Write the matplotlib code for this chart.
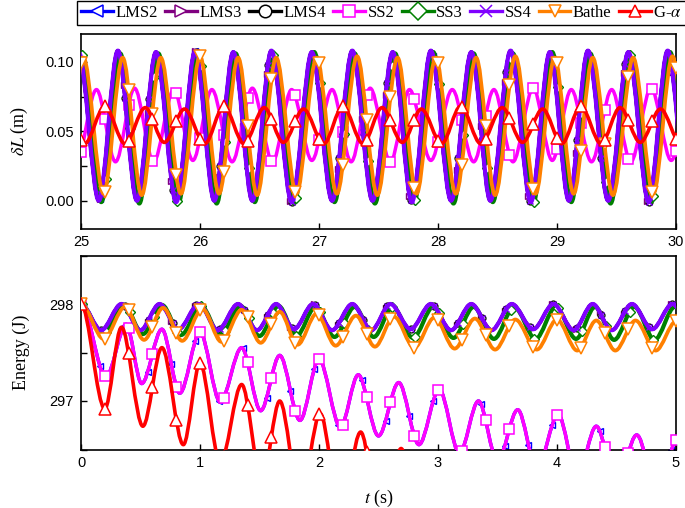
import numpy as np
import matplotlib.pyplot as plt
from matplotlib.path import Path
from matplotlib.patches import PathPatch
from matplotlib.bezier import BezierSegment
from matplotlib.lines import Line2D
from matplotlib.ticker import MultipleLocator

plt.rcParams['font.family'] = ['Liberation Serif', 'DejaVu Serif']
plt.rcParams['mathtext.fontset'] = 'stix'

labels = ['LMS2', 'LMS3', 'LMS4', 'SS2', 'SS3', 'SS4', 'Bathe', r'G-$\alpha$']

# ---- top panel (t = 25..30 s): turning points of dL (m)
ss4_top_t = [24.98, 25.15, 25.31, 25.47, 25.63, 25.80, 25.96, 26.12, 26.28, 26.44, 26.60,
             26.77, 26.94, 27.11, 27.28, 27.45, 27.62, 27.78, 27.94, 28.11, 28.28, 28.44,
             28.61, 28.78, 28.94, 29.10, 29.26, 29.43, 29.60, 29.77, 29.93, 30.10]
ss4_top_v = [0.107, 0.000, 0.108, 0.000, 0.107, -0.001, 0.108, 0.000, 0.107, 0.000, 0.108,
             -0.001, 0.107, 0.000, 0.108, 0.000, 0.107, -0.001, 0.108, 0.000, 0.107, 0.000,
             0.108, -0.001, 0.107, 0.000, 0.108, 0.000, 0.107, -0.001, 0.108, 0.000]

ss3_top_t = [25.00, 25.17, 25.33, 25.49, 25.65, 25.82, 25.98, 26.14, 26.30, 26.46, 26.62,
             26.79, 26.96, 27.13, 27.30, 27.47, 27.64, 27.80, 27.96, 28.13, 28.30, 28.46,
             28.63, 28.80, 28.96, 29.12, 29.28, 29.45, 29.62, 29.79, 29.95, 30.12]
ss3_top_v = [0.106, -0.001, 0.106, -0.002, 0.106, -0.001, 0.107, -0.002, 0.106, -0.001, 0.106,
             -0.002, 0.107, -0.001, 0.106, -0.002, 0.106, -0.001, 0.107, -0.002, 0.106, -0.001,
             0.106, -0.002, 0.107, -0.001, 0.106, -0.002, 0.106, -0.001, 0.107, -0.002]

bathe_top_t = [24.86, 25.02, 25.19, 25.35, 25.51, 25.67, 25.84, 26.00, 26.16, 26.32, 26.48,
               26.64, 26.81, 26.98, 27.15, 27.32, 27.49, 27.66, 27.82, 27.98, 28.15, 28.32,
               28.48, 28.65, 28.82, 28.98, 29.14, 29.30, 29.47, 29.64, 29.81, 29.97, 30.14]
bathe_top_v = [0.005, 0.103, 0.005, 0.103, 0.004, 0.103, 0.005, 0.104, 0.005, 0.103, 0.004,
               0.103, 0.005, 0.103, 0.005, 0.104, 0.004, 0.103, 0.005, 0.103, 0.005, 0.103,
               0.004, 0.104, 0.005, 0.103, 0.005, 0.103, 0.004, 0.103, 0.005, 0.104, 0.005]

ss2_top_t = [24.96, 25.13, 25.29, 25.45, 25.61, 25.78, 25.94, 26.10, 26.27, 26.44, 26.61,
             26.77, 26.94, 27.11, 27.27, 27.43, 27.60, 27.76, 27.94, 28.12, 28.30, 28.47,
             28.63, 28.80, 28.96, 29.12, 29.29, 29.46, 29.62, 29.79, 29.96, 30.13]
ss2_top_v = [0.028, 0.080, 0.028, 0.081, 0.028, 0.080, 0.029, 0.080, 0.028, 0.081, 0.028,
             0.080, 0.029, 0.080, 0.028, 0.081, 0.028, 0.080, 0.029, 0.080, 0.028, 0.080,
             0.028, 0.081, 0.029, 0.080, 0.028, 0.080, 0.028, 0.081, 0.029, 0.080]

ga_top_t = [24.87, 25.03, 25.20, 25.37, 25.54, 25.70, 25.87, 26.04, 26.20, 26.37, 26.54,
            26.70, 26.87, 27.04, 27.20, 27.37, 27.53, 27.70, 27.86, 28.03, 28.19, 28.36,
            28.54, 28.71, 28.88, 29.04, 29.20, 29.37, 29.53, 29.70, 29.87, 30.04]
ga_top_v = [0.067, 0.041, 0.068, 0.041, 0.067, 0.042, 0.066, 0.041, 0.068, 0.041, 0.067,
            0.042, 0.066, 0.041, 0.068, 0.041, 0.067, 0.042, 0.066, 0.041, 0.068, 0.041,
            0.067, 0.042, 0.066, 0.041, 0.068, 0.041, 0.067, 0.042, 0.066, 0.041]

# ---- bottom panel (t = 0..5 s): turning points of energy (J)
ss4_bot_t = [0.00, 0.17, 0.34, 0.50, 0.66, 0.82, 0.99, 1.15, 1.32, 1.48, 1.64, 1.79, 1.95,
             2.11, 2.28, 2.44, 2.60, 2.77, 2.94, 3.11, 3.28, 3.45, 3.62, 3.80, 3.97, 4.14,
             4.30, 4.46, 4.63, 4.80, 4.97, 5.14]
ss4_bot_v = [298.00, 297.73, 298.00, 297.73, 298.00, 297.74, 298.00, 297.73, 298.00, 297.73,
             298.00, 297.74, 298.00, 297.73, 298.00, 297.73, 298.00, 297.74, 298.00, 297.73,
             298.00, 297.73, 298.00, 297.74, 298.00, 297.73, 298.00, 297.73, 298.00, 297.74,
             298.00, 297.73]

ss3_bot_t = [0.00, 0.18, 0.36, 0.52, 0.68, 0.84, 1.01, 1.17, 1.34, 1.50, 1.66, 1.81, 1.97,
             2.13, 2.30, 2.46, 2.62, 2.79, 2.96, 3.13, 3.30, 3.47, 3.64, 3.82, 3.99, 4.16,
             4.32, 4.48, 4.65, 4.82, 4.99, 5.16]
ss3_bot_v = [298.00, 297.69, 297.99, 297.69, 297.99, 297.68, 297.98, 297.68, 297.98, 297.67,
             297.98, 297.67, 297.97, 297.66, 297.97, 297.66, 297.97, 297.65, 297.97, 297.65,
             297.97, 297.64, 297.97, 297.64, 297.97, 297.64, 297.97, 297.63, 297.97, 297.63,
             297.97, 297.63]

bathe_bot_t = [0.00, 0.19, 0.37, 0.53, 0.69, 0.85, 1.02, 1.18, 1.35, 1.51, 1.67, 1.82, 1.98,
               2.14, 2.31, 2.47, 2.63, 2.80, 2.97, 3.14, 3.31, 3.48, 3.65, 3.83, 4.00, 4.17,
               4.33, 4.49, 4.66, 4.83, 5.00, 5.17]
bathe_bot_v = [298.00, 297.64, 297.97, 297.63, 297.96, 297.62, 297.95, 297.61, 297.94, 297.60,
               297.92, 297.58, 297.90, 297.57, 297.88, 297.56, 297.87, 297.55, 297.86, 297.54,
               297.85, 297.53, 297.84, 297.53, 297.84, 297.52, 297.83, 297.52, 297.83, 297.52,
               297.82, 297.52]

ss2_bot_t = [0.00, 0.21, 0.38, 0.51, 0.68, 0.83, 1.00, 1.17, 1.35, 1.51, 1.67, 1.84, 2.00,
             2.18, 2.33, 2.50, 2.67, 2.84, 3.01, 3.18, 3.34, 3.50, 3.67, 3.83, 4.01, 4.17,
             4.33, 4.50, 4.67, 4.84, 5.01, 5.17]
ss2_bot_v = [298.00, 297.25, 297.79, 297.18, 297.74, 297.08, 297.71, 296.99, 297.55, 296.90,
             297.47, 296.80, 297.43, 296.73, 297.27, 296.64, 297.19, 296.55, 297.12, 296.46,
             297.00, 296.38, 296.91, 296.30, 296.86, 296.22, 296.74, 296.15, 296.65, 296.08,
             296.60, 296.00]

ga_bot_t = [0.00, 0.20, 0.34, 0.52, 0.68, 0.86, 1.00, 1.17, 1.35, 1.52, 1.67, 1.84, 2.01,
            2.18, 2.35, 2.52, 2.69, 2.86]
ga_bot_v = [298.00, 296.92, 297.76, 296.74, 297.55, 296.55, 297.39, 296.36, 297.17, 296.18,
            297.00, 296.00, 296.87, 295.85, 296.68, 295.70, 296.51, 295.50]

# LMS curves sit under the thick SS curves, so they share their turning points
top_data = [(ss4_top_t, ss4_top_v), (ss4_top_t, ss4_top_v), (ss4_top_t, ss4_top_v),
            (ss2_top_t, ss2_top_v), (ss3_top_t, ss3_top_v), (ss4_top_t, ss4_top_v),
            (bathe_top_t, bathe_top_v), (ga_top_t, ga_top_v)]
bot_data = [(ss2_bot_t, ss2_bot_v), (ss4_bot_t, ss4_bot_v), (ss4_bot_t, ss4_bot_v),
            (ss2_bot_t, ss2_bot_v), (ss3_bot_t, ss3_bot_v), (ss4_bot_t, ss4_bot_v),
            (bathe_bot_t, bathe_bot_v), (ga_bot_t, ga_bot_v)]

styles = [
    dict(color='#0000ff', marker='<', ms=4.5, mew=1.0, lw=2.4, moff=-0.04),
    dict(color='#800080', marker='>', ms=4.5, mew=1.0, lw=2.4, moff=-0.04),
    dict(color='#000000', marker='o', ms=5.0, mew=0.9, lw=2.4, moff=-0.03),
    dict(color='#ff00ff', marker='s', ms=7.5, mew=1.1, lw=2.5, moff=0.0),
    dict(color='#008000', marker='D', ms=5.5, mew=1.0, lw=3.0, moff=0.01),
    dict(color='#8000ff', marker='x', ms=5.0, mew=1.0, lw=3.0, moff=-0.03),
    dict(color='#ff8000', marker='v', ms=9.0, mew=1.1, lw=2.7, moff=0.0),
    dict(color='#ff0000', marker='^', ms=9.0, mew=1.1, lw=2.6, moff=0.0),
]


def curve_segments(t, v):
    segs = []
    for i in range(len(t) - 1):
        h = (t[i + 1] - t[i]) / 3
        segs.append(np.array([[t[i], v[i]], [t[i] + h, v[i]],
                              [t[i + 1] - h, v[i + 1]], [t[i + 1], v[i + 1]]]))
    return segs


def draw_series(ax, t, v, st, z, t0, t1):
    segs = curve_segments(t, v)
    verts = [segs[0][0]]
    codes = [Path.MOVETO]
    for s in segs:
        verts.extend(s[1:])
        codes.extend([Path.CURVE4] * 3)
    ax.add_patch(PathPatch(Path(verts, codes), fill=False, ec=st['color'], lw=st['lw'],
                           zorder=z, capstyle='round', joinstyle='round'))
    pts = []
    for tm in np.arange(t0 + st['moff'], t1 + 0.01, 0.2):
        i = np.searchsorted(t, tm, side='right') - 1
        if 0 <= i < len(segs):
            s = segs[i]
            pts.append(BezierSegment(s).point_at_t((tm - s[0, 0]) / (s[3, 0] - s[0, 0])))
    pts = np.array(pts)
    ax.plot(pts[:, 0], pts[:, 1], ls='none', marker=st['marker'], ms=st['ms'],
            mfc='white', mec=st['color'], mew=st['mew'], zorder=z + 0.5)


fig = plt.figure(figsize=(6.85, 5.08), dpi=100)
ax1 = fig.add_axes([81 / 685, 1 - 228.5 / 508, 595 / 685, 194.5 / 508])
ax2 = fig.add_axes([81 / 685, 1 - 449.5 / 508, 595 / 685, 194 / 508])

for k, st in enumerate(styles):
    draw_series(ax1, *top_data[k], st, 2 + k, 25, 30)
    draw_series(ax2, *bot_data[k], st, 2 + k, 0, 5)

ax1.set_xlim(25, 30)
ax1.set_ylim(-0.02, 0.12)
ax1.yaxis.set_major_locator(MultipleLocator(0.05))
ax1.yaxis.set_minor_locator(MultipleLocator(0.025))
ax1.yaxis.set_major_formatter('{x:.2f}')
ax2.set_xlim(0, 5)
ax2.set_ylim(296.5, 298.5)
ax2.yaxis.set_major_locator(MultipleLocator(1))
ax2.yaxis.set_minor_locator(MultipleLocator(0.5))
ax2.yaxis.set_major_formatter('{x:.0f}')

for ax in (ax1, ax2):
    ax.xaxis.set_major_locator(MultipleLocator(1))
    ax.tick_params(which='both', direction='in', length=4, width=1.0, labelsize=10.5,
                   pad=5, labelfontfamily='Liberation Sans')
    for sp in ax.spines.values():
        sp.set_linewidth(1.2)
    ax.yaxis.set_label_coords(-0.085, 0.5)

ax1.set_ylabel(r'$\delta L$ (m)', fontsize=13)
ax2.set_ylabel('Energy (J)', fontsize=13)
ax2.set_xlabel(r'$t$ (s)', fontsize=13)
ax2.xaxis.set_label_coords(0.5, -0.2)

handles = [Line2D([], [], color=st['color'], lw=2.4, marker=st['marker'], ms=9,
                  mfc='white', mec=st['color'], mew=1.1) for st in styles]
leg = fig.legend(handles, labels, loc='upper center', bbox_to_anchor=(0.557, 0.998),
                 ncol=8, frameon=True, fancybox=False, edgecolor='k', framealpha=1,
                 fontsize=12, handlelength=1.9, handletextpad=0.15, columnspacing=0.45,
                 borderpad=0.25, borderaxespad=0)
leg.get_frame().set_linewidth(1.0)

fig.savefig('out.png', dpi=100)
